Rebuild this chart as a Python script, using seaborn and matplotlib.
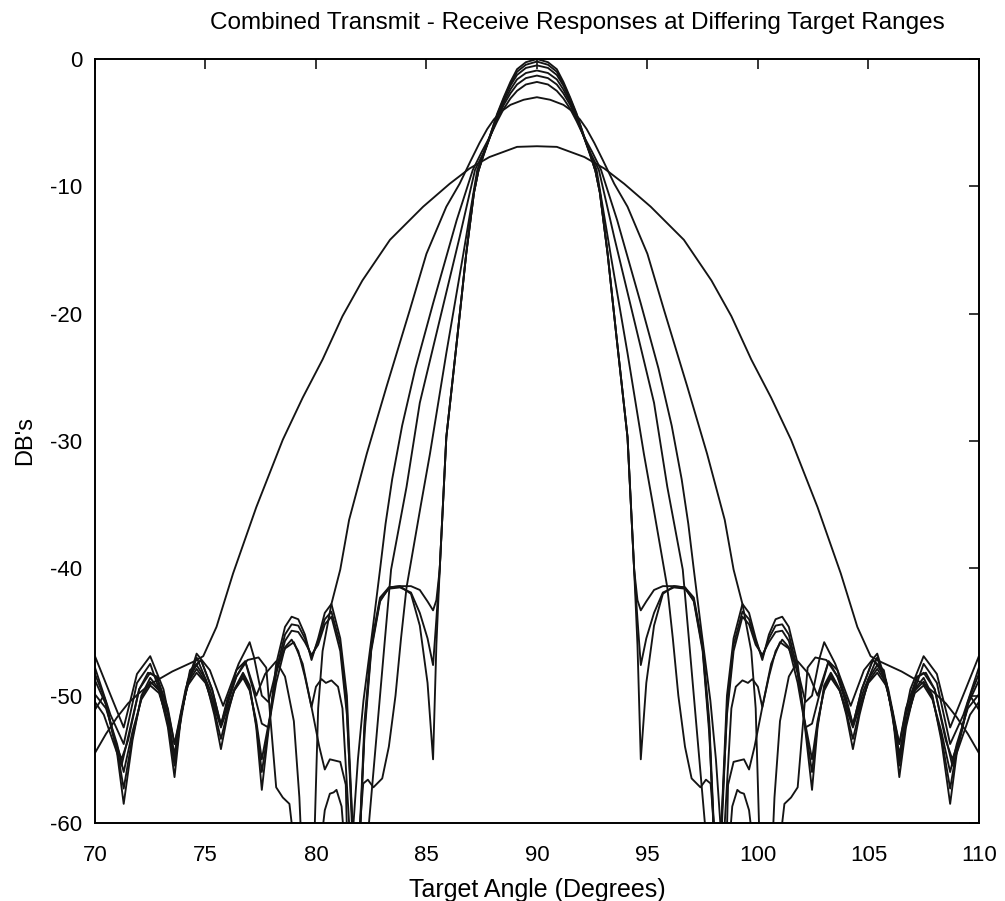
import numpy as np
import pandas as pd
import matplotlib
matplotlib.use("Agg")
import matplotlib.pyplot as plt
import seaborn as sns

# Combined transmit/receive beam responses for several target ranges.
# Each response is symmetric about broadside (90 deg), so every range is
# described by levels (dB) at angular offsets from broadside.

# widest response (closest target)
a_off = [0, 0.9, 2.15, 3.05, 3.95, 5.15, 6.65, 7.9, 8.8, 9.7, 10.6, 11.5, 12.7, 13.75,
         14.5, 15.1, 15.5, 16.0, 16.5, 17.0, 17.5, 18.0, 18.5, 19.0, 19.5, 20.0]
a_db = [-6.85, -6.9, -7.7, -8.6, -9.8, -11.6, -14.2, -17.4, -20.2, -23.6, -26.6, -29.9,
        -35.2, -40.4, -44.6, -46.9, -47.3, -47.7, -48.1, -48.6, -49.1, -49.8, -50.6,
        -51.7, -53.0, -54.5]

b_off = [0, 0.6, 1.2, 1.6, 1.95, 2.25, 2.6, 3.0, 3.5, 4.1, 5.0, 5.75, 6.8, 7.7, 8.5, 8.9,
         9.3, 9.7, 9.9, 10.05, 10.1, 10.6, 10.75, 11.0, 11.4, 11.8, 12.3, 12.7, 13.2, 13.6,
         14.3, 14.8, 15.4, 15.9, 16.4, 16.9, 17.5, 18.1, 18.7, 19.3, 20.0]
b_db = [-3.0, -3.2, -3.6, -4.1, -4.75, -5.5, -6.6, -8.0, -9.8, -11.6, -15.3, -19.7, -25.7,
        -31.0, -36.2, -40.1, -42.8, -46.5, -51.0, -60.0, -64.0, -64.0, -58.0, -52.0, -48.5,
        -47.3, -48.3, -50.0, -47.3, -48.5, -52.3, -49.5, -47.0, -49.8, -54.8, -50.5, -47.5,
        -49.0, -53.8, -51.5, -47.8]

c_off = [0, 0.5, 0.9, 1.2, 1.5, 1.8, 2.1, 2.5, 2.9, 3.63, 4.7, 5.5, 6.1, 6.55, 6.85, 7.1,
         7.45, 7.85, 8.1, 8.3, 8.45, 8.55, 8.65, 8.9, 9.37, 9.6, 9.85, 10.2, 10.6, 11.0,
         11.4, 11.8, 12.15, 12.45, 12.8, 13.0, 13.5, 14.2, 14.8, 15.4, 15.9, 16.4, 16.9,
         17.5, 18.1, 18.7, 19.4, 20.0]
c_db = [-1.8, -2.0, -2.5, -3.1, -3.9, -4.9, -6.0, -7.3, -8.7, -12.65, -19.2, -24.3, -28.8,
        -33.0, -36.5, -40.1, -45.0, -50.4, -55.0, -60.0, -64.0, -64.0, -57.0, -55.2, -55.0,
        -55.8, -54.0, -50.9, -47.5, -45.8, -46.3, -48.0, -50.5, -50.0, -47.0, -45.8, -47.5,
        -50.8, -48.0, -46.7, -49.5, -53.8, -49.5, -46.9, -48.3, -52.5, -49.5, -46.9]

d_off = [0, 0.5, 0.9, 1.2, 1.5, 1.8, 2.1, 2.4, 2.8, 3.5, 4.4, 5.3, 5.9, 6.6, 6.9, 7.2, 7.4,
         7.6, 7.7, 8.6, 8.84, 9.07, 9.2, 9.37, 9.6, 9.8, 10.0, 11.0, 11.1, 11.2, 11.5, 11.8,
         12.05, 12.25, 12.6, 13.1, 13.6, 14.0, 14.3, 14.7, 15.2, 15.7, 16.1, 16.4, 16.7,
         17.2, 17.5, 18.0, 18.4, 18.8, 19.2, 19.6, 20.0]
d_db = [-1.3, -1.5, -2.0, -2.7, -3.6, -4.7, -6.0, -7.3, -8.7, -14.0, -20.5, -27.0, -33.6,
        -40.1, -46.0, -52.0, -56.0, -60.0, -64.0, -64.0, -58.7, -57.4, -57.6, -57.7, -59.0,
        -62.0, -64.0, -64.0, -60.0, -58.5, -58.0, -57.2, -52.0, -47.8, -47.0, -47.2, -48.5,
        -50.2, -52.3, -49.5, -47.2, -48.0, -51.5, -55.0, -51.5, -48.6, -48.2, -49.5, -52.5,
        -55.5, -53.5, -51.5, -50.5]

e_off = [0, 0.5, 0.9, 1.2, 1.5, 1.8, 2.1, 2.4, 2.7, 3.33, 4.1, 4.84, 5.25, 5.6, 5.9, 6.15,
         6.4, 6.7, 7.0, 7.4, 7.65, 7.86, 8.0, 8.1, 8.4, 8.6, 8.8, 9.0, 9.3, 9.55, 9.75, 10.0,
         10.2, 10.5, 10.8, 11.1, 11.4, 11.8, 12.15, 12.45, 12.8, 13.2, 13.6, 14.0, 14.3,
         14.7, 15.2, 15.7, 16.1, 16.4, 16.7, 17.2, 17.6, 18.0, 18.5, 18.8, 19.2, 19.6, 20.0]
e_db = [-0.9, -1.1, -1.6, -2.4, -3.4, -4.6, -6.0, -7.4, -8.7, -15.3, -23.1, -31.0, -35.0,
        -38.5, -41.5, -45.5, -50.0, -54.0, -56.5, -57.2, -56.6, -56.9, -60.0, -64.0, -63.0,
        -57.0, -51.0, -49.3, -48.8, -49.0, -48.7, -49.3, -50.9, -48.5, -46.5, -45.6, -46.2,
        -49.0, -52.5, -52.2, -49.8, -47.3, -48.0, -50.5, -52.3, -49.5, -47.2, -48.2, -51.5,
        -53.8, -51.0, -48.5, -48.2, -49.5, -53.5, -55.0, -53.0, -50.0, -51.1]

# far-range responses share one set of offsets
n_off = [0, 0.5, 0.9, 1.2, 1.5, 1.8, 2.1, 2.4, 2.65, 2.85, 3.2, 3.6, 4.1, 4.4, 4.55, 4.7,
         4.95, 5.3, 5.7, 6.2, 6.7, 7.1, 7.5, 7.8, 8.05, 8.2, 8.35, 8.6, 8.9, 9.3, 9.6, 9.9,
         10.2, 10.5, 10.8, 11.1, 11.4, 11.8, 12.1, 12.45, 12.7, 13.0, 13.3, 13.7, 14.0,
         14.3, 14.6, 15.0, 15.4, 15.8, 16.1, 16.4, 16.7, 17.1, 17.5, 17.9, 18.3, 18.7,
         19.0, 19.5, 20.0]
f_db = [-0.5, -0.7, -1.25, -2.1, -3.2, -4.5, -6.0, -7.5, -8.8, -10.5, -15.3, -21.8, -29.7,
        -40.1, -42.5, -43.3, -42.6, -41.7, -41.4, -41.4, -41.5, -42.6, -46.5, -53.0, -62.0,
        -63.0, -60.0, -51.5, -46.5, -43.8, -44.4, -46.0, -46.8, -45.8, -45.0, -44.9, -45.7,
        -48.3, -51.8, -55.0, -52.0, -49.6, -48.6, -49.6, -51.0, -52.5, -50.9, -49.0, -48.2,
        -49.2, -51.3, -54.6, -52.0, -49.8, -49.2, -50.3, -52.8, -56.0, -53.8, -51.0, -49.9]
g_db = [-0.2, -0.45, -1.0, -1.95, -3.1, -4.4, -5.9, -7.4, -8.8, -10.5, -15.3, -21.8, -29.7,
        -40.1, -44.0, -47.6, -45.5, -43.5, -41.9, -41.5, -41.6, -42.5, -46.3, -52.5, -63.0,
        -64.0, -61.0, -51.0, -46.0, -43.4, -44.0, -45.7, -47.0, -45.5, -44.5, -44.4, -45.2,
        -48.0, -52.0, -56.0, -52.3, -49.4, -48.4, -49.6, -51.3, -53.4, -51.2, -48.9, -47.9,
        -49.0, -51.5, -55.5, -52.2, -49.6, -48.9, -50.2, -53.2, -57.3, -54.2, -50.7, -48.8]
h_db = [0.0, -0.25, -0.8, -1.8, -3.0, -4.3, -5.9, -7.4, -8.8, -10.5, -15.3, -21.8, -29.7,
        -40.1, -46.0, -55.0, -49.0, -44.5, -42.0, -41.4, -41.5, -42.3, -46.0, -52.0, -62.0,
        -66.0, -60.0, -50.0, -45.5, -42.8, -43.5, -45.5, -47.2, -45.2, -44.0, -43.8, -44.6,
        -47.5, -52.0, -57.4, -52.5, -49.2, -48.2, -49.5, -51.5, -54.2, -51.5, -48.7, -47.6,
        -48.8, -51.5, -56.4, -52.5, -49.5, -48.6, -50.0, -53.5, -58.5, -54.5, -50.5, -48.3]

ranges = ["A", "B", "C", "D", "E", "F", "G", "H"]
offsets = [a_off, b_off, c_off, d_off, e_off, n_off, n_off, n_off]
levels = [a_db, b_db, c_db, d_db, e_db, f_db, g_db, h_db]

x_ticks = [70, 75, 80, 85, 90, 95, 100, 105, 110]
y_ticks = [-60, -50, -40, -30, -20, -10, 0]

frames = []
for name, off, lev in zip(ranges, offsets, levels):
    off = np.asarray(off)
    lev = np.asarray(lev)
    ang = np.concatenate([90 - off[::-1], 90 + off[1:]])
    val = np.concatenate([lev[::-1], lev[1:]])
    frames.append(pd.DataFrame({"angle": ang, "db": val, "range": name}))
df = pd.concat(frames, ignore_index=True)

sns.set_theme(style="white")
plt.rcParams["font.family"] = ["Liberation Sans", "DejaVu Sans"]

fig = plt.figure(figsize=(10.05, 9.01), dpi=100)
ax = fig.add_axes([0.0945, 0.0866, 0.8795, 0.8479])

sns.lineplot(data=df, x="angle", y="db", units="range", estimator=None, sort=False,
             color="#141414", linewidth=1.35, legend=False, ax=ax)

ax.set_xlim(70, 110)
ax.set_ylim(-60, 0)
ax.set_xticks(x_ticks)
ax.set_yticks(y_ticks)
ax.set_xticklabels([str(t) for t in x_ticks])
ax.set_yticklabels([str(t) for t in y_ticks])
ax.tick_params(direction="in", length=7, width=1.1, top=True, right=True,
               labelsize=16, colors="black")
ax.tick_params(axis="x", pad=15.5)
ax.tick_params(axis="y", pad=9)
for s in ax.spines.values():
    s.set_visible(True)
    s.set_color("black")
    s.set_linewidth(1.4)

ax.set_xlabel("Target Angle (Degrees)", fontsize=18, labelpad=9, color="black")
ax.set_ylabel("DB's", fontsize=17, labelpad=10, color="black")
fig.text(0.575, 0.975, "Combined Transmit - Receive Responses at Differing Target Ranges",
         ha="center", va="center", fontsize=17.5, color="black")

fig.savefig("out.png", dpi=100, facecolor="white")
